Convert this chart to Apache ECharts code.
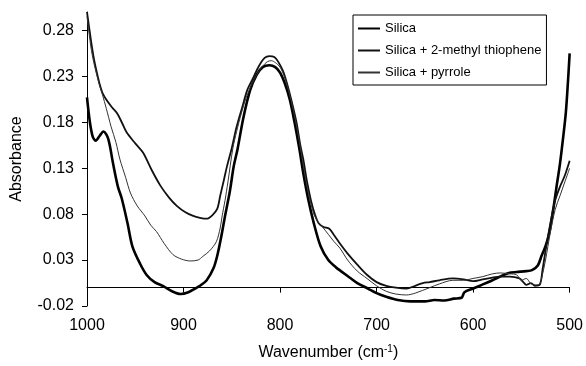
<!DOCTYPE html>
<html>
<head>
<meta charset="utf-8">
<script src="https://cdn.jsdelivr.net/npm/echarts@6/dist/echarts.min.js"></script>
<style>html,body{margin:0;padding:0;background:#fff}#c{width:586px;height:366px}</style>
</head>
<body>
<div id="c"></div>
<script>
const seriesNames = ['Silica', 'Silica + 2-methyl thiophene', 'Silica + pyrrole'];
const xTicks = [1000, 900, 800, 700, 600, 500];
const yTicks = [-0.02, 0.03, 0.08, 0.13, 0.18, 0.23, 0.28];

const silica = [
[1000,0.207],[997,0.18],[994,0.164],[991,0.16],[987,0.165],[983,0.170],[978,0.162],[973,0.135],[968,0.11],[964,0.097],[958,0.07],[953,0.045],[945,0.026],[938,0.0135],[930,0.006],[921,0.0016],[912,-0.004],[903,-0.007],[895,-0.005],[888,-0.001],[883,0.002],[876,0.008],[869,0.021],[865,0.035],[861,0.055],[857,0.078],[852,0.105],[848,0.132],[844,0.151],[838,0.185],[831,0.215],[824,0.232],[818,0.240],[811,0.242],[805,0.240],[800,0.234],[795,0.222],[790,0.205],[785,0.18],[780,0.151],[776,0.125],[771,0.097],[765,0.07],[758,0.045],[750,0.03],[742,0.022],[737,0.018],[728,0.011],[720,0.005],[709,-0.001],[700,-0.006],[690,-0.010],[678,-0.0135],[665,-0.015],[650,-0.015],[640,-0.0135],[630,-0.014],[620,-0.012],[612,-0.011],[609,-0.005],[600,-0.001],[591,0.003],[580,0.008],[570,0.013],[563,0.016],[555,0.017],[545,0.018],[539,0.019],[533,0.024],[529,0.035],[525,0.045],[521,0.06],[517,0.085],[514,0.107],[510,0.135],[507,0.161],[504,0.19],[502,0.22],[500,0.255]
];
const methyl = [
[1000,0.300],[996,0.27],[993,0.25],[990,0.235],[987,0.222],[984,0.212],[979,0.203],[974,0.196],[969,0.19],[964,0.18],[959,0.169],[950,0.157],[942,0.147],[933,0.128],[924,0.111],[915,0.098],[907,0.089],[898,0.082],[890,0.078],[883,0.076],[876,0.075],[870,0.079],[865,0.086],[862,0.1],[858,0.118],[855,0.132],[850,0.152],[845,0.175],[839,0.197],[834,0.215],[828,0.228],[822,0.241],[816,0.25],[811,0.252],[806,0.251],[802,0.246],[797,0.236],[793,0.223],[788,0.203],[783,0.18],[779,0.155],[776,0.14],[772,0.115],[768,0.095],[764,0.08],[760,0.07],[755,0.066],[749,0.064],[744,0.057],[738,0.048],[730,0.037],[720,0.025],[710,0.014],[700,0.006],[690,0.002],[680,0.0],[669,-0.001],[660,0.002],[652,0.005],[645,0.006],[635,0.008],[621,0.01],[610,0.009],[600,0.007],[590,0.009],[580,0.011],[572,0.012],[562,0.012],[552,0.01],[548,0.006],[545,0.003],[540,0.005],[536,0.002],[531,0.003],[528,0.02],[525,0.04],[520,0.07],[515,0.095],[510,0.11],[505,0.122],[500,0.138]
];
const pyrrole = [
[1000,0.295],[996,0.262],[993,0.245],[990,0.232],[987,0.22],[984,0.21],[980,0.195],[975,0.175],[970,0.158],[966,0.14],[960,0.12],[955,0.103],[948,0.089],[940,0.078],[934,0.068],[928,0.061],[920,0.048],[911,0.036],[902,0.031],[893,0.029],[885,0.03],[880,0.034],[873,0.04],[866,0.05],[862,0.065],[860,0.078],[857,0.095],[854,0.115],[849,0.151],[845,0.17],[840,0.19],[835,0.207],[829,0.222],[824,0.232],[819,0.240],[813,0.246],[809,0.247],[805,0.245],[800,0.24],[795,0.228],[790,0.21],[785,0.187],[781,0.165],[777,0.14],[773,0.115],[769,0.095],[765,0.08],[761,0.072],[756,0.066],[750,0.058],[744,0.05],[738,0.043],[730,0.03],[720,0.018],[710,0.01],[700,0.002],[690,-0.004],[680,-0.007],[669,-0.008],[660,-0.006],[645,0.0],[635,0.004],[621,0.008],[610,0.008],[600,0.01],[590,0.012],[580,0.015],[572,0.016],[562,0.015],[555,0.014],[550,0.008],[545,0.01],[540,0.004],[535,0.003],[531,0.004],[528,0.015],[525,0.03],[520,0.06],[515,0.085],[510,0.1],[505,0.115],[500,0.13]
];

const FONT = '"Liberation Sans", Arial, sans-serif';
const chart = echarts.init(document.getElementById('c'), null, {renderer: 'canvas'});
chart.setOption({
  animation: false,
  backgroundColor: '#fff',
  textStyle: {fontFamily: FONT, color: '#000'},
  grid: {left: 87, right: 16, top: 12, bottom: 58},
  legend: {
    orient: 'vertical', left: 353, top: 15,
    padding: [7, 5, 6, 4], itemGap: 9, itemWidth: 22, itemHeight: 14,
    borderColor: '#000', borderWidth: 1, backgroundColor: '#fff',
    itemStyle: {opacity: 0},
    textStyle: {fontFamily: FONT, fontSize: 13, color: '#000'},
    data: seriesNames
  },
  xAxis: [{
    type: 'value', inverse: true, min: 500, max: 1000, interval: 100,
    axisLine: {show: false, onZero: false}, axisTick: {show: false}, splitLine: {show: false},
    axisLabel: {fontFamily: FONT, fontSize: 16, color: '#000', margin: 12, customValues: xTicks, formatter: v => String(v)},
    name: '{a|Wavenumber (cm}{s|-1}{a|)}', nameLocation: 'middle', nameGap: 38,
    nameTextStyle: {rich: {a: {fontFamily: FONT, fontSize: 16, color: '#000'}, s: {fontFamily: FONT, fontSize: 10, color: '#000', verticalAlign: 'top', padding: [0,0,8,0]}}}
  }, {
    type: 'value', inverse: true, min: 500, max: 1000, interval: 100, position: 'top',
    axisLine: {show: true, onZero: true, lineStyle: {color: '#000', width: 1}},
    axisTick: {show: true, inside: true, length: 5, lineStyle: {color: '#000'}, customValues: xTicks},
    axisLabel: {show: false}, splitLine: {show: false}
  }],
  yAxis: {
    type: 'value', min: -0.02, max: 0.30, interval: 0.05,
    axisLine: {show: true, lineStyle: {color: '#000', width: 1}},
    axisTick: {show: true, length: 5, lineStyle: {color: '#000'}, customValues: yTicks},
    axisLabel: {fontFamily: FONT, fontSize: 16, color: '#000', margin: 13, customValues: yTicks,
      formatter: v => v.toFixed(2)},
    splitLine: {show: false},
    name: 'Absorbance', nameLocation: 'middle', nameRotate: 90, nameGap: 62,
    nameTextStyle: {fontFamily: FONT, fontSize: 16, color: '#000'}
  },
  series: [
    {name: seriesNames[0], type: 'line', data: silica, symbol: 'none', smooth: 0.3, lineStyle: {color: '#000', width: 2.6}, itemStyle: {color: '#000'}},
    {name: seriesNames[1], type: 'line', data: methyl, symbol: 'none', smooth: 0.3, lineStyle: {color: '#111', width: 1.8}, itemStyle: {color: '#111'}},
    {name: seriesNames[2], type: 'line', data: pyrrole, symbol: 'none', smooth: 0.3, lineStyle: {color: '#333', width: 1}, itemStyle: {color: '#333'}}
  ]
});
</script>
</body>
</html>
